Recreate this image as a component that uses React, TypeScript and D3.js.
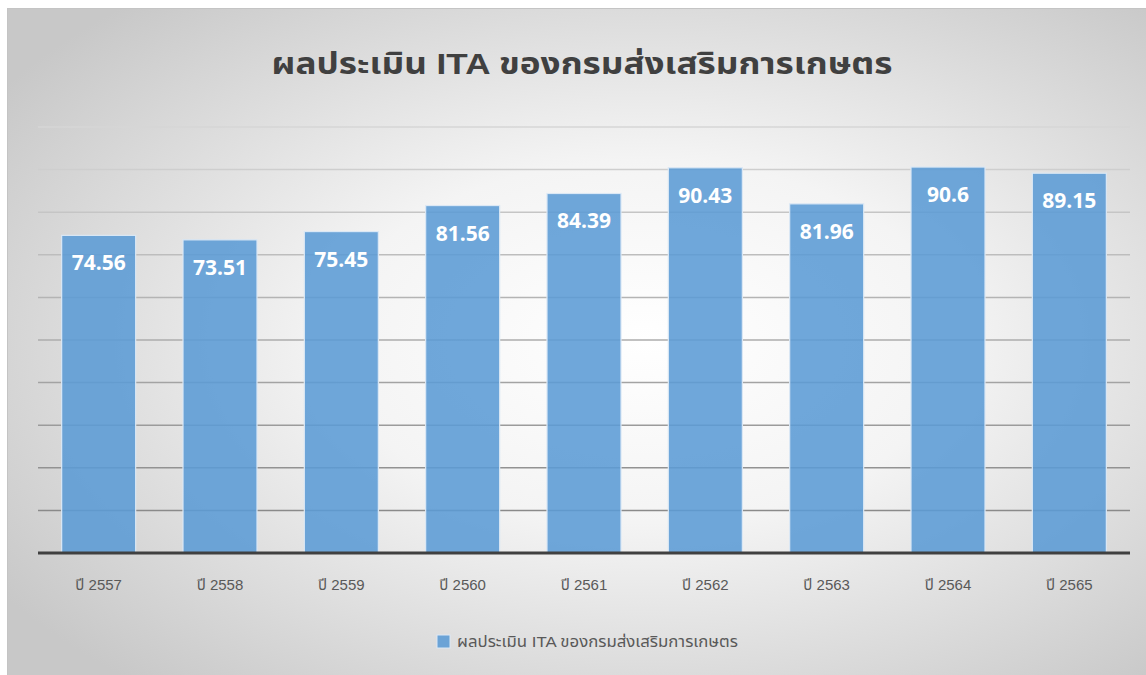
import React from "react";
import * as d3 from "d3";

const categories = ["ปี 2557", "ปี 2558", "ปี 2559", "ปี 2560", "ปี 2561", "ปี 2562", "ปี 2563", "ปี 2564", "ปี 2565"];
const values = [74.56, 73.51, 75.45, 81.56, 84.39, 90.43, 81.96, 90.6, 89.15];
const valueLabels = ["74.56", "73.51", "75.45", "81.56", "84.39", "90.43", "81.96", "90.6", "89.15"];
const gridTicks = [10, 20, 30, 40, 50, 60, 70, 80, 90, 100];
const title = "ผลประเมิน ITA ของกรมส่งเสริมการเกษตร";
const seriesName = "ผลประเมิน ITA ของกรมส่งเสริมการเกษตร";

const W = 1146;
const H = 675;
const plotLeft = 38;
const plotRight = 1130;
const baseY = 553;
const topY = 127;

export default function App() {
  const x = d3.scaleBand<string>().domain(categories).range([plotLeft, plotRight]).paddingInner(0.39).paddingOuter(0.195);
  const y = d3.scaleLinear().domain([0, 100]).range([baseY, topY]);
  const gridColor = d3.scaleLinear<string>().domain([10, 100]).range(["#8a8a8a", "#d6d6d6"]).interpolate(d3.interpolateRgb);
  const thaiFont = "'Liberation Sans', 'Noto Sans Thai', 'Noto Sans Thai UI', Tahoma, 'DejaVu Sans', sans-serif";

  return (
    <svg width={W} height={H} style={{ position: "fixed", left: 0, top: 0, display: "block" }}>
      <defs>
        <radialGradient id="bg" cx="0.56" cy="0.5" r="0.68" gradientUnits="objectBoundingBox">
          <stop offset="0" stopColor="#ffffff" />
          <stop offset="0.4" stopColor="#f4f4f4" />
          <stop offset="1" stopColor="#c8c8c8" />
        </radialGradient>
      </defs>
      <rect x={0} y={0} width={W} height={H} fill="#ffffff" />
      <rect x={7} y={8} width={W - 7} height={H - 8} fill="url(#bg)" />
      <line x1={7} x2={W} y1={8.5} y2={8.5} stroke="#c4c4c4" strokeWidth={1} />
      <line x1={7.5} x2={7.5} y1={8} y2={H} stroke="#c4c4c4" strokeWidth={1} />

      <text
        x={582}
        y={74}
        textAnchor="middle"
        fontFamily={thaiFont}
        fontWeight="bold"
        fontSize={30}
        fill="#404040"
        textLength={621}
        lengthAdjust="spacingAndGlyphs"
      >
        {title}
      </text>

      {gridTicks.map((t) => (
        <line key={t} x1={plotLeft} x2={plotRight} y1={y(t)} y2={y(t)} stroke={gridColor(t)} strokeWidth={1.5} />
      ))}

      {categories.map((c, i) => (
        <g key={c}>
          <rect
            x={x(c)!}
            y={y(values[i])}
            width={x.bandwidth()}
            height={baseY - y(values[i])}
            fill="#5b9bd5"
            fillOpacity={0.88}
            stroke="#dbe8f5"
            strokeWidth={1.2}
          />
          <text
            x={x(c)! + x.bandwidth() / 2}
            y={y(values[i]) + 35}
            textAnchor="middle"
            fontFamily="'Open Sans', 'Liberation Sans', sans-serif"
            fontWeight="bold"
            fontSize={21}
            fill="#ffffff"
          >
            {valueLabels[i]}
          </text>
          <text
            x={x(c)! + x.bandwidth() / 2}
            y={590}
            textAnchor="middle"
            fontFamily={thaiFont}
            fontSize={15}
            fill="#595959"
          >
            {c}
          </text>
        </g>
      ))}

      <line x1={plotLeft} x2={plotRight} y1={baseY} y2={baseY} stroke="#404040" strokeWidth={3} />

      <rect x={437} y={635} width={13} height={13} fill="#5b9bd5" fillOpacity={0.88} stroke="#dbe8f5" strokeWidth={1} />
      <text
        x={457}
        y={647}
        fontFamily={thaiFont}
        fontSize={15}
        fill="#595959"
        textLength={281}
        lengthAdjust="spacingAndGlyphs"
      >
        {seriesName}
      </text>
    </svg>
  );
}
